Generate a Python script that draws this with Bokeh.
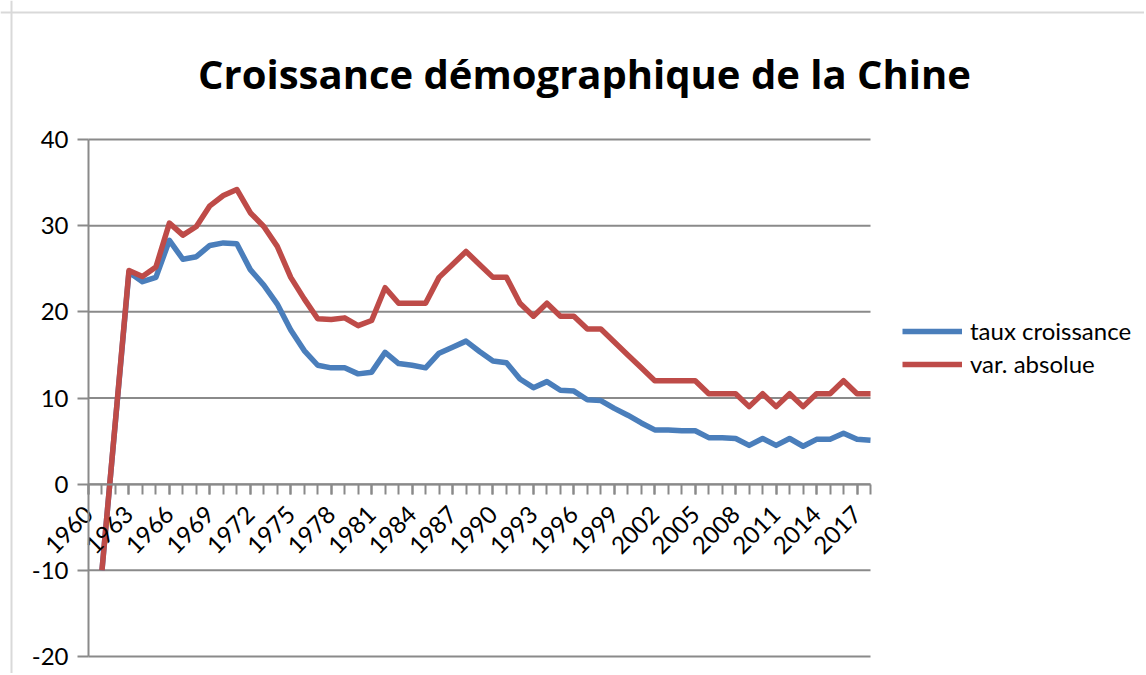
import math
from bokeh.plotting import figure
from bokeh.models import FixedTicker, Legend, LegendItem, Range1d, Label, Span
from bokeh.embed import file_html
from bokeh.resources import INLINE

nan = float("nan")

years = list(range(1960, 2019))

taux_croissance = [
    nan, -10.0, 7.3, 24.6, 23.5, 24.0, 28.3, 26.1, 26.4, 27.7,
    28.0, 27.9, 24.9, 23.1, 20.9, 17.9, 15.5, 13.8, 13.5, 13.5,
    12.8, 13.0, 15.3, 14.0, 13.8, 13.5, 15.2, 15.9, 16.6, 15.4,
    14.3, 14.1, 12.2, 11.2, 11.9, 10.9, 10.8, 9.8, 9.7, 8.8,
    8.0, 7.1, 6.3, 6.3, 6.2, 6.2, 5.4, 5.4, 5.3, 4.5,
    5.3, 4.5, 5.3, 4.4, 5.2, 5.2, 5.9, 5.2, 5.1,
]

var_absolue = [
    nan, -10.0, 7.4, 24.8, 24.1, 25.2, 30.3, 28.9, 29.9, 32.3,
    33.5, 34.2, 31.5, 29.9, 27.6, 24.0, 21.5, 19.2, 19.1, 19.3,
    18.4, 19.0, 22.8, 21.0, 21.0, 21.0, 24.0, 25.5, 27.0, 25.5,
    24.0, 24.0, 21.0, 19.5, 21.0, 19.5, 19.5, 18.0, 18.0, 16.5,
    15.0, 13.5, 12.0, 12.0, 12.0, 12.0, 10.5, 10.5, 10.5, 9.0,
    10.5, 9.0, 10.5, 9.0, 10.5, 10.5, 12.0, 10.5, 10.5,
]

y_ticks = [-20, -10, 0, 10, 20, 30, 40]
label_years = years[::3]          # 1960, 1963, ..., 2017
series_names = ["taux croissance", "var. absolue"]
title_text = "Croissance démographique de la Chine"

# ---- layout (pixels) ----
W, H = 1144, 673
PLOT_L, PLOT_R, PLOT_T, PLOT_B = 88, 870, 139, 656   # plot area inside the canvas
px_x = (PLOT_R - PLOT_L) / (years[-1] - years[0])
px_y = (PLOT_B - PLOT_T) / (y_ticks[-1] - y_ticks[0])
x_range = Range1d(years[0] - PLOT_L / px_x, years[-1] + (W - PLOT_R) / px_x)
y_range = Range1d(y_ticks[0] - (H - PLOT_B) / px_y, y_ticks[-1] + PLOT_T / px_y)

BLUE = "#4A7EBB"
RED = "#BE4B48"
GRAY = "#8A8A8A"
FONT = "Lato"
LABEL_SIZE = "24px"

p = figure(
    width=W, height=H,
    min_border_left=0, min_border_right=0, min_border_top=0, min_border_bottom=0,
    x_range=x_range, y_range=y_range,
    output_backend="svg", toolbar_location=None,
    background_fill_color="white", border_fill_color="white",
)
p.outline_line_color = None
p.xgrid.visible = False
p.ygrid.visible = False

# chart border (light grey, left and top)
p.add_layout(Span(location=11, location_units="screen", dimension="height",
                  line_color="#D9D9D9", line_width=2))
p.add_layout(Span(location=H - 12, location_units="screen", dimension="width",
                  line_color="#D9D9D9", line_width=2))

# title
p.add_layout(Label(x=584, y=H - 73, x_units="screen", y_units="screen", text=title_text,
                   text_align="center", text_baseline="middle",
                   text_font="Open Sans", text_font_style="bold", text_font_size="40px",
                   text_color="black"))

# horizontal gridlines, from the y ticks
n = len(y_ticks)
p.segment(x0=[years[0]] * n, x1=[years[-1]] * n, y0=y_ticks, y1=y_ticks,
          line_color=GRAY, line_width=2)

# y axis at the first year
p.yaxis.fixed_location = years[0]
p.yaxis.bounds = (y_ticks[0], y_ticks[-1])
p.yaxis.ticker = FixedTicker(ticks=y_ticks, minor_ticks=[])
p.yaxis.major_label_overrides = {v: str(v) for v in y_ticks}
p.yaxis.axis_line_color = GRAY
p.yaxis.axis_line_width = 2
p.yaxis.major_tick_line_color = GRAY
p.yaxis.major_tick_line_width = 2
p.yaxis.major_tick_out = 11
p.yaxis.major_tick_in = 0
p.yaxis.major_label_standoff = 9
p.yaxis.major_label_text_font = FONT
p.yaxis.major_label_text_font_size = LABEL_SIZE
p.yaxis.major_label_text_color = "black"

# x axis crossing at 0
p.xaxis.fixed_location = 0
p.xaxis.bounds = (years[0], years[-1])
p.xaxis.ticker = FixedTicker(ticks=label_years, minor_ticks=years)
p.xaxis.axis_line_color = GRAY
p.xaxis.axis_line_width = 2
p.xaxis.major_tick_line_color = GRAY
p.xaxis.major_tick_line_width = 2
p.xaxis.minor_tick_line_color = GRAY
p.xaxis.minor_tick_line_width = 2
p.xaxis.major_tick_out = 10
p.xaxis.major_tick_in = 0
p.xaxis.minor_tick_out = 10
p.xaxis.minor_tick_in = 0
p.xaxis.major_label_orientation = math.pi / 4
p.xaxis.major_label_standoff = 16
p.xaxis.major_label_text_font = FONT
p.xaxis.major_label_text_font_size = LABEL_SIZE
p.xaxis.major_label_text_color = "black"

r_blue = p.line(years, taux_croissance, line_color=BLUE, line_width=5.5, line_join="round")
r_red = p.line(years, var_absolue, line_color=RED, line_width=5.5, line_join="round")

legend = Legend(
    items=[LegendItem(label=series_names[0], renderers=[r_blue]),
           LegendItem(label=series_names[1], renderers=[r_red])],
    location=(902, H - 378),
    padding=0, margin=0, spacing=4,
    glyph_width=60, glyph_height=22, label_height=22,
    label_standoff=8,
    label_text_font=FONT, label_text_font_size=LABEL_SIZE, label_text_color="black",
    border_line_color=None, background_fill_alpha=0,
)
p.add_layout(legend, "center")

open("out.html", "w").write(file_html(p, INLINE))
